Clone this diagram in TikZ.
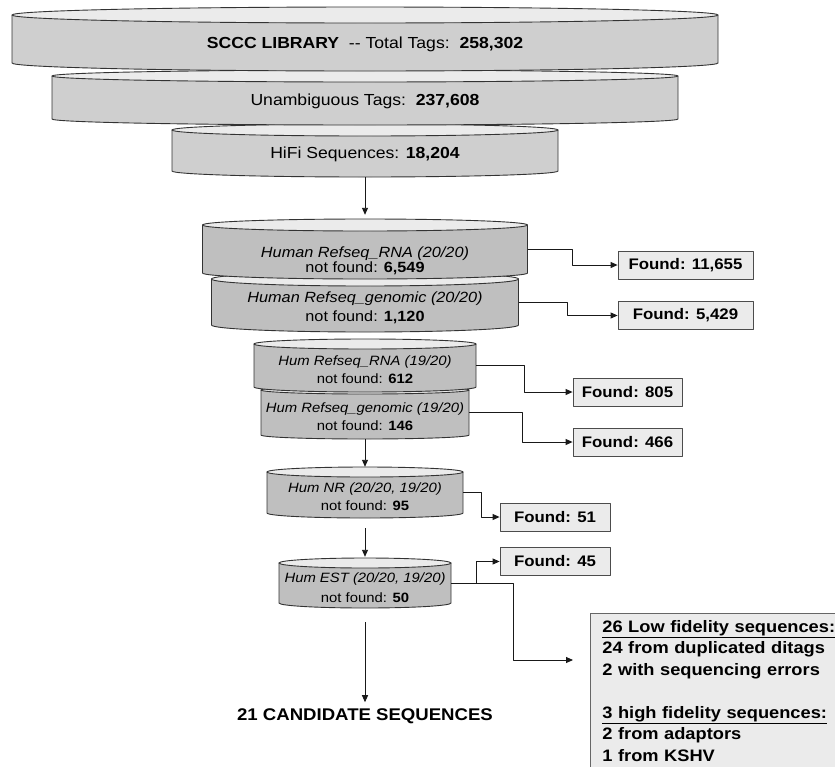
\documentclass[tikz,border=0pt]{standalone}
\usepackage{fontspec}
\setmainfont{Liberation Sans}[FakeStretch=1.1]
\usetikzlibrary{arrows.meta}
\begin{document}
\begin{tikzpicture}[x=1pt,y=-1pt,line join=round,
  diskline/.style={draw=black!80,line width=.9pt},
  diskfill/.style 2 args={left color=black!#1,middle color=black!#2,right color=black!#1},
  flow/.style={draw=black!90,line width=.9pt,-{Triangle[length=7pt,width=6pt]}},
  toptxt/.style={inner sep=0,font=\fontsize{16}{19}\selectfont},
  dtxt/.style 2 args={align=center,inner sep=0,font=\fontsize{#1}{#2}\selectfont},
  found/.style={draw=black!70,fill=black!8,line width=.8pt,minimum width=#1,minimum height=28,inner sep=0,font=\fontsize{15.3}{18}\selectfont\bfseries},
  lowbox/.style={anchor=north west,draw=black!60,fill=black!8,line width=.8pt,align=left,text width=245,inner xsep=12,inner ysep=7,font=\fontsize{16.6}{21.5}\selectfont\bfseries}]
\useasboundingbox (0,0) rectangle (835,766);
\clip (0,0) rectangle (835,766);
\foreach \nm/\cx/\tp/\bt/\rx/\ry/\lc/\mc in {hifi/365/124/177/193/6/19/8,unamb/365/70/125/313/6/19/8,sccc/365/7/71/353/8/19/8,
  gen20/365/272/332/153.5/7/25/14,rna20/365/219/279/162.5/6/25/14,gen19/365/386/439/104/4/25/14,rna19/365/339/392/111/5/25/14,
  hnr/365/467/518/98/5/25/14,hest/365/558/608/86/5/25/14}{
  \draw[diskline,diskfill={\lc}{\mc}] ({\cx-\rx},{\tp+\ry}) -- ({\cx-\rx},{\bt-\ry})
    arc[start angle=180,end angle=0,x radius=\rx,y radius=\ry] -- ({\cx+\rx},{\tp+\ry}) -- cycle;
  \draw[diskline,fill=black!8] (\cx,{\tp+\ry}) ellipse[x radius=\rx,y radius=\ry];
  \node[inner sep=0,minimum width=2*\rx,minimum height=\bt-\tp] (\nm) at (\cx,{(\tp+\bt)/2}) {};
}
\node[toptxt] (scccT) at (365,44.5) {\textbf{SCCC LIBRARY}\ \ -{}- Total Tags:\ \ \textbf{258,302}};
\node[toptxt] (unambT) at (365,101.5) {Unambiguous Tags:\ \ \textbf{237,608}};
\node[toptxt] (hifiT) at (365,154.5) {HiFi Sequences: \textbf{18,204}};
\node[dtxt={14.8}{15}] (rna20T) at (365,261) {\textit{Human Refseq\_RNA (20/20)}\\not found: \textbf{6,549}};
\node[dtxt={14.8}{19}] (gen20T) at (365,307.5) {\textit{Human Refseq\_genomic (20/20)}\\not found: \textbf{1,120}};
\node[dtxt={13.5}{18}] (rna19T) at (365,370) {\textit{Hum Refseq\_RNA (19/20)}\\not found: \textbf{612}};
\node[dtxt={13.5}{18}] (gen19T) at (365,417) {\textit{Hum Refseq\_genomic (19/20)}\\not found: \textbf{146}};
\node[dtxt={13.5}{18}] (hnrT) at (365,497) {\textit{Hum NR (20/20, 19/20)}\\not found: \textbf{95}};
\node[dtxt={13.5}{20}] (hestT) at (365,588) {\textit{Hum EST (20/20, 19/20)}\\not found: \textbf{50}};
\node[found=135] (f11655) at (685.5,265) {Found: 11,655};
\node[found=135] (f5429) at (685.5,315.5) {Found: 5,429};
\node[found=109] (f805) at (627.5,392) {Found: 805};
\node[found=109] (f466) at (627.5,442) {Found: 466};
\node[found=110] (f51) at (555,517) {Found: 51};
\node[found=110] (f45) at (555,561.5) {Found: 45};
\node[lowbox] (lowfid) at (590,613) {\underline{26 Low fidelity sequences:}\\24 from duplicated ditags\\2 with sequencing errors\\[21.5pt]\underline{3 high fidelity sequences:}\\2 from adaptors\\1 from KSHV};
\coordinate (lowin) at (573,660);
\node[inner sep=0,font=\fontsize{16.9}{20}\selectfont\bfseries] (cand) at (365,716) {21 CANDIDATE SEQUENCES};
\draw[flow,shorten >=4pt] (hifi) -- (rna20);
\draw[flow] (gen19) -- (hnr);
\draw[flow,shorten <=10pt,shorten >=1pt] (hnr) -- (hest);
\draw[flow,shorten <=14pt,shorten >=6pt] (hest) -- (cand);
\draw[flow] (rna20.east) -- ++(45,0) |- (f11655);
\draw[flow] (gen20.east) -- ++(49,0) |- (f5429);
\draw[flow] (rna19.east) -- ++(48,0) |- (f805);
\draw[flow] (gen19.east) -- ++(53,0) |- (f466);
\draw[flow] (hnr.east) -- ++(18,0) |- (f51);
\draw[flow] (hest.east) -- ++(62,0) |- (lowin);
\draw[flow] ([xshift=25pt]hest.east) |- (f45);
\end{tikzpicture}
\end{document}
